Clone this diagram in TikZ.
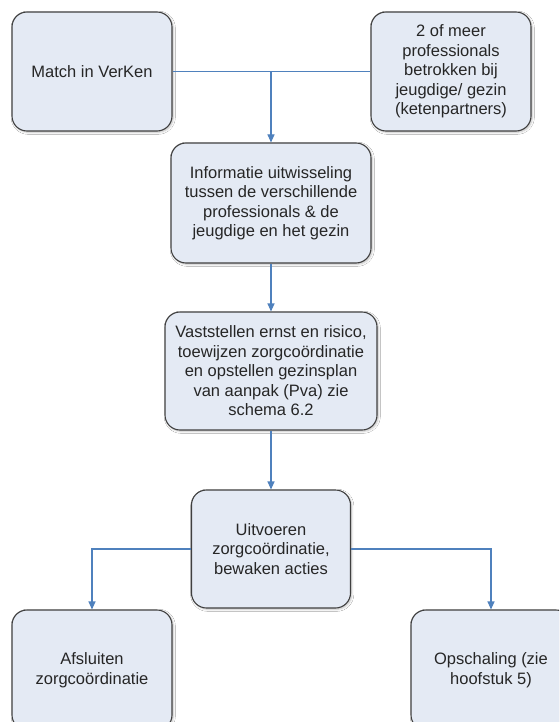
\documentclass[tikz,border=0pt]{standalone}
\usepackage{fontspec}
\setmainfont{Liberation Sans}
\usetikzlibrary{arrows.meta,shadows.blur}
\definecolor{boxfill}{RGB}{228,234,244}
\definecolor{boxdraw}{RGB}{64,64,64}
\definecolor{conn}{RGB}{79,129,189}
\tikzset{
  flowbox/.style={draw=boxdraw, fill=boxfill, line width=1.1pt, rounded corners=15pt,
    align=center, inner sep=2pt, font=\fontsize{16.5}{19.5}\selectfont, text=black!85,
    blur shadow={shadow xshift=1.2pt, shadow yshift=-1.2pt, shadow blur steps=6, shadow opacity=25}},
  connline/.style={draw=conn, line width=1.1pt},
  connarrow/.style={connline, -{Triangle[length=8pt,width=7pt]}}
}
\begin{document}
\begin{tikzpicture}[x=1pt,y=-1pt]
\useasboundingbox (0,0) rectangle (559,722);
\clip (0,0) rectangle (559,722);
\fill[white] (0,0) rectangle (559,722);
\node[flowbox, minimum width=160pt, minimum height=119pt] (b1) at (92,71.5) {Match in VerKen};
\node[flowbox, minimum width=160pt, minimum height=119pt] (b2) at (451,71.5) {2 of meer\\professionals\\betrokken bij\\jeugdige/ gezin\\(ketenpartners)};
\node[flowbox, minimum width=200pt, minimum height=120pt] (b3) at (271,203) {Informatie uitwisseling\\tussen de verschillende\\professionals \& de\\jeugdige en het gezin};
\node[flowbox, minimum width=212pt, minimum height=118pt] (b4) at (271,371) {Vaststellen ernst en risico,\\toewijzen zorgcoördinatie\\en opstellen gezinsplan\\van aanpak (Pva) zie\\schema 6.2};
\node[flowbox, minimum width=159pt, minimum height=118pt] (b5) at (271,549) {Uitvoeren\\zorgcoördinatie,\\bewaken acties};
\node[flowbox, minimum width=160pt, minimum height=120pt] (b6) at (92,670) {Afsluiten\\zorgcoördinatie};
\node[flowbox, minimum width=160pt, minimum height=120pt] (b7) at (491,670) {Opschaling (zie\\hoofstuk 5)};
\coordinate (j1) at (b3.north |- b1.east);
\draw[connline] (b1.east) -- (b2.west);
\draw[connarrow] (j1) -- (b3.north);
\draw[connarrow] (b3.south) -- (b4.north);
\draw[connarrow] (b4.south) -- (b5.north);
\draw[connarrow] (b5.west) -| (b6.north);
\draw[connarrow] (b5.east) -| (b7.north);
\end{tikzpicture}
\end{document}
